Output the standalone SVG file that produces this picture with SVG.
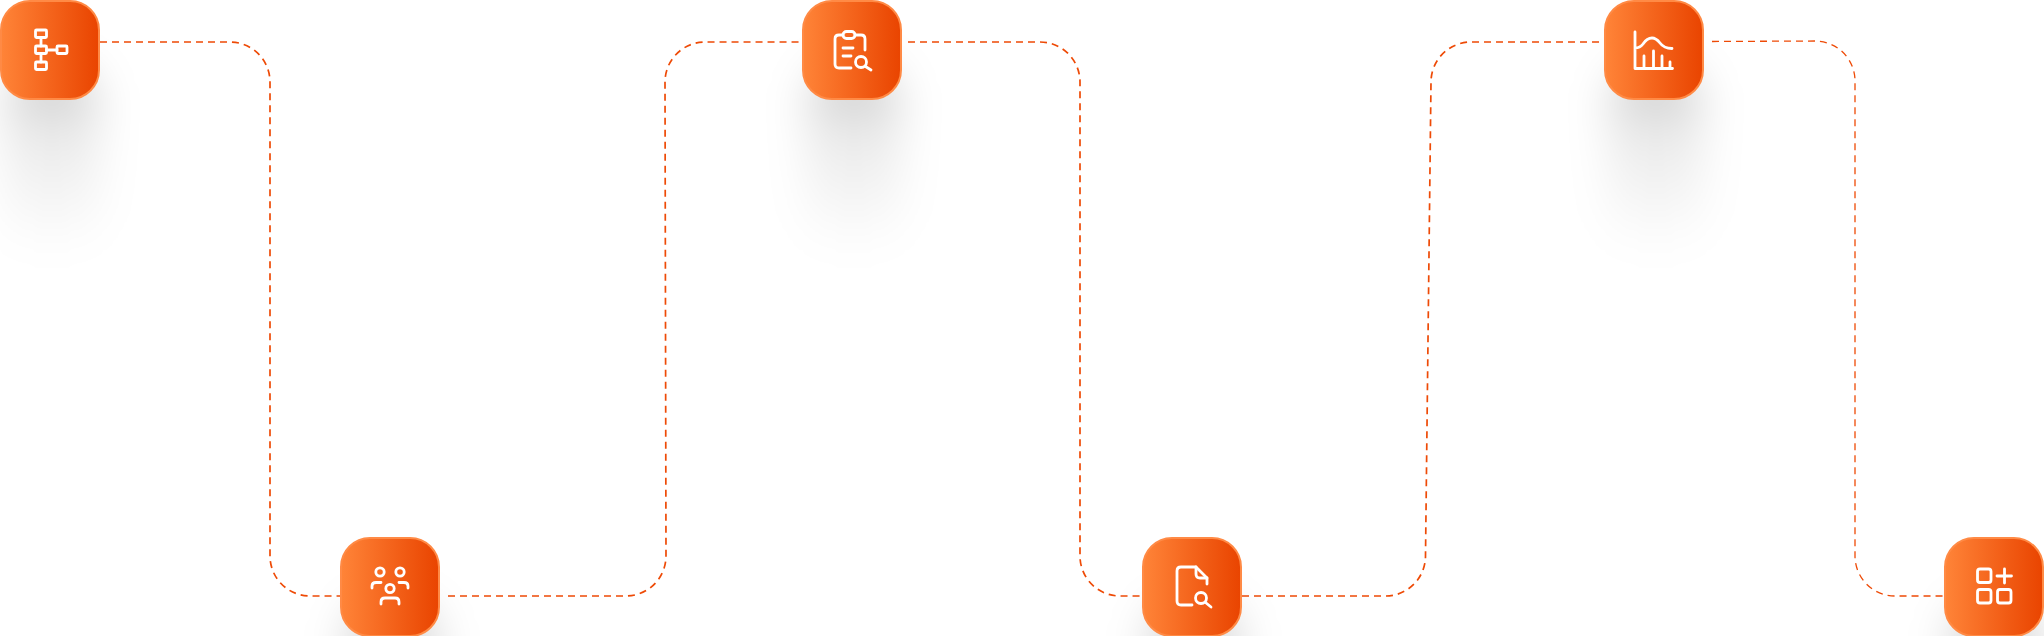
<svg xmlns="http://www.w3.org/2000/svg" width="2044" height="636" viewBox="0 0 2044 636">
<style>
.c{fill:none;stroke:#ee4a06;stroke-width:1.7;stroke-dasharray:7 5}
.n{fill:url(#g);stroke:#ff8a45;stroke-width:2}
.i{fill:none;stroke:#fff;stroke-width:2.8;stroke-linecap:round;stroke-linejoin:round}
.s1{fill:url(#sg);filter:url(#b1)}
</style>
<defs>
<linearGradient id="g" x1="0" x2="1" y1="0" y2="0"><stop offset="0" stop-color="#ff8438"/><stop offset="1" stop-color="#e94400"/></linearGradient>
<linearGradient id="sg" x1="0" x2="0" y1="0" y2="1"><stop offset="0" stop-color="#000" stop-opacity=".24"/><stop offset=".3" stop-color="#000" stop-opacity=".09"/><stop offset="1" stop-color="#000" stop-opacity="0"/></linearGradient>
<filter id="b1" x="-100%" y="-100%" width="300%" height="300%"><feGaussianBlur stdDeviation="22"/></filter>
<g id="shadow"><rect class="s1" x="5" y="68" width="94" height="185" rx="40"/></g>
<rect id="box" class="n" x="1" y="1" width="98" height="98" rx="29"/>
</defs>
<g id="connectors">
<path class="c" d="M100 42H230A40 40 0 0 1 270 82V556A40 40 0 0 0 310 596H340"/>
<path class="c" d="M448 596H626A40 40 0 0 0 666 556L665 82A40 40 0 0 1 705 42H802"/>
<path class="c" d="M908 42H1040A40 40 0 0 1 1080 82V556A40 40 0 0 0 1120 596H1142"/>
<path class="c" d="M1242 596H1385A40 40 0 0 0 1425.500 556L1431 82A40 40 0 0 1 1471 42H1604"/>
<path class="c" d="M1712 41.500L1815 41A40 40 0 0 1 1855 81V556A40 40 0 0 0 1895 596H1944" style="stroke-width:1.3"/>
</g>
<g id="node-1"><use href="#shadow"/><use href="#box"/>
<g class="i"><rect x="35.500" y="30" width="11" height="7.500" rx="1"/><rect x="35.500" y="46" width="11" height="7.500" rx="1"/><rect x="35.500" y="62" width="11" height="7.500" rx="1"/><rect x="57" y="46" width="10" height="7.500" rx="1"/><path d="M41 37.500V46M41 53.500V62M46.500 50H57"/></g></g>
<g id="node-2" transform="translate(340 537)"><use href="#shadow"/><use href="#box"/>
<g class="i"><circle cx="40" cy="35" r="4.200"/><circle cx="60" cy="35" r="4.200"/><circle cx="50" cy="51.500" r="4.200"/><path d="M32 51V49Q32 45.500 36 45.500H41M59 45.500H64Q68 45.500 68 49V51M41 67V65Q41 61 45 61H55Q59 61 59 65V67"/></g></g>
<g id="node-3" transform="translate(802 0)"><use href="#shadow"/><use href="#box"/>
<g class="i"><path d="M49 68H37Q33 68 33 64V39Q33 35 37 35H41M53 35H59Q63 35 63 39V50"/><rect x="41" y="31.500" width="12" height="7" rx="3.500"/><path d="M41 48H51M41 56H49"/><circle cx="59" cy="62" r="5.500"/><path d="M63.500 66.500L69 70"/></g></g>
<g id="node-4" transform="translate(1142 537)"><use href="#shadow"/><use href="#box"/>
<g class="i"><path d="M50 68H39Q35 68 35 64V34Q35 30 39 30H54L65 41V47"/><path d="M54 30V37Q54 41 58 41H65"/><circle cx="59" cy="61" r="5.500"/><path d="M63.500 65.500L69 70"/></g></g>
<g id="node-5" transform="translate(1604 0)"><use href="#shadow"/><use href="#box"/>
<g class="i"><path d="M31 32V68.500H68.500M31 48Q36 48 39 44Q43 38 48 38Q52 38 56 43Q60 48.500 68 48.500M40 68V56M49.500 68V51M58 68V56M66 68V62"/></g></g>
<g id="node-6" transform="translate(1944 537)"><use href="#shadow"/><use href="#box"/>
<g class="i"><rect x="33.500" y="32" width="13.500" height="13.500" rx="2.500"/><rect x="33.500" y="52.500" width="13.500" height="13.500" rx="2.500"/><rect x="53.500" y="52.500" width="13.500" height="13.500" rx="2.500"/><path d="M53 39H67.500M60.500 32V46"/></g></g>
</svg>
